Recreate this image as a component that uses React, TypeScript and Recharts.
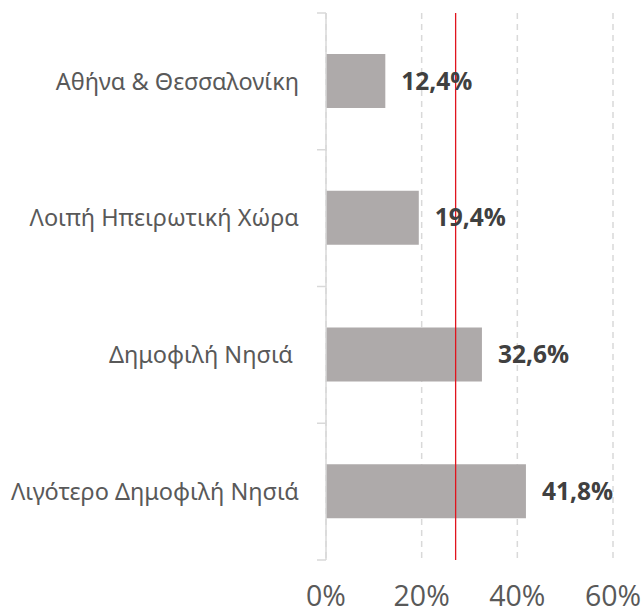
import { BarChart, Bar, XAxis, YAxis, CartesianGrid, ReferenceLine, LabelList } from "recharts"

const categories = ["Αθήνα & Θεσσαλονίκη", "Λοιπή Ηπειρωτική Χώρα", "Δημοφιλή Νησιά ", "Λιγότερο Δημοφιλή Νησιά"]
const shares = [12.4, 19.4, 32.6, 41.8]
const average = 27.1
const xTicks = [0, 20, 40, 60]

const data = categories.map((name, i) => ({ name, share: shares[i] }))

const W = 642
const H = 613
const TOP = 13
const X_AXIS_H = 53
const BAND = (H - TOP - X_AXIS_H) / categories.length

const pct = (v: number) => `${v.toFixed(1).replace(".", ",")}%`

function CategoryTick(props: any) {
  const { x, y, payload, index } = props
  const last = index === categories.length - 1
  return (
    <g>
      <line x1={x - 9} x2={x} y1={y - BAND / 2} y2={y - BAND / 2} stroke="#d9d9d9" strokeWidth={1.5} />
      {last && <line x1={x - 9} x2={x} y1={y + BAND / 2} y2={y + BAND / 2} stroke="#d9d9d9" strokeWidth={1.5} />}
      <text
        x={x - 27}
        y={y}
        dy="0.35em"
        textAnchor="end"
        fontSize={23.5}
        fill="#595959"
        fontFamily="Noto Sans"
        xmlSpace="preserve"
      >
        {payload.value}
      </text>
    </g>
  )
}

export default function App() {
  return (
    <div style={{ position: "absolute", top: 0, left: 0, background: "#fff" }}>
      <BarChart width={W} height={H} data={data} layout="vertical" margin={{ top: TOP, right: 29, bottom: 0, left: 0 }}>
        <CartesianGrid horizontal={false} stroke="#d9d9d9" strokeDasharray="6 5" strokeWidth={1.5} />
        <XAxis
          type="number"
          domain={[0, 60]}
          ticks={xTicks}
          tickFormatter={(v: number) => `${v}%`}
          height={X_AXIS_H}
          axisLine={false}
          tickLine={false}
          tickSize={0}
          tickMargin={26}
          tick={{ fontSize: 28.5, fill: "#595959", fontFamily: "Open Sans" }}
          interval={0}
        />
        <YAxis
          type="category"
          dataKey="name"
          width={326}
          axisLine={{ stroke: "#d9d9d9", strokeWidth: 1.5 }}
          tickLine={false}
          tickSize={0}
          tickMargin={0}
          tick={<CategoryTick />}
          interval={0}
        />
        <Bar dataKey="share" fill="#AEAAAA" barSize={54} isAnimationActive={false}>
          <LabelList
            dataKey="share"
            position="right"
            offset={16}
            formatter={(v: any) => pct(Number(v))}
            fill="#404040"
            fontSize={24.5}
            fontWeight="bold"
            fontFamily="Open Sans"
          />
        </Bar>
        <ReferenceLine x={average} stroke="#E0141E" strokeWidth={1.3} />
      </BarChart>
    </div>
  )
}
